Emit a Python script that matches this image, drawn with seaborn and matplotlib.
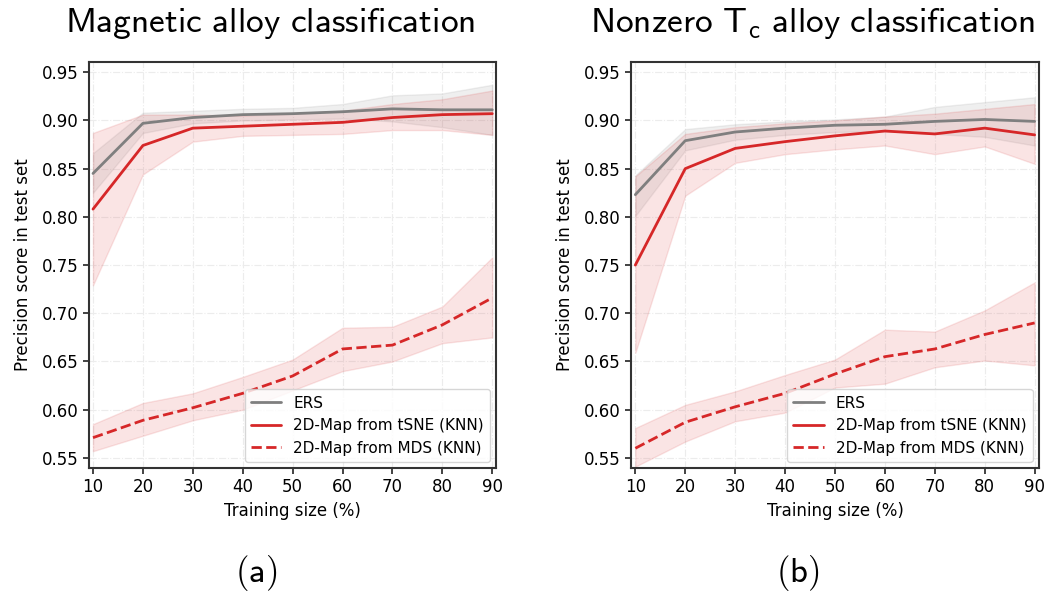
import numpy as np
import pandas as pd
import seaborn as sns
import matplotlib
matplotlib.use("Agg")
import matplotlib.pyplot as plt

# Training sizes (%)
train_size = [10, 20, 30, 40, 50, 60, 70, 80, 90]

# Panel (a): magnetic alloy classification
a_ers_mean = [0.845, 0.897, 0.903, 0.906, 0.907, 0.909, 0.912, 0.911, 0.911]
a_ers_low = [0.825, 0.887, 0.897, 0.900, 0.901, 0.902, 0.899, 0.893, 0.885]
a_ers_high = [0.866, 0.908, 0.910, 0.912, 0.913, 0.917, 0.926, 0.928, 0.937]

a_tsne_mean = [0.808, 0.874, 0.892, 0.894, 0.896, 0.898, 0.903, 0.906, 0.907]
a_tsne_low = [0.729, 0.844, 0.878, 0.884, 0.885, 0.886, 0.890, 0.890, 0.885]
a_tsne_high = [0.887, 0.906, 0.906, 0.905, 0.907, 0.910, 0.917, 0.922, 0.931]

a_mds_mean = [0.571, 0.589, 0.602, 0.617, 0.635, 0.663, 0.667, 0.688, 0.716]
a_mds_low = [0.557, 0.573, 0.589, 0.600, 0.620, 0.640, 0.650, 0.669, 0.675]
a_mds_high = [0.585, 0.607, 0.617, 0.634, 0.652, 0.685, 0.686, 0.707, 0.758]

# Panel (b): nonzero Tc alloy classification
b_ers_mean = [0.823, 0.879, 0.888, 0.892, 0.895, 0.896, 0.899, 0.901, 0.899]
b_ers_low = [0.801, 0.869, 0.880, 0.885, 0.888, 0.889, 0.886, 0.883, 0.874]
b_ers_high = [0.843, 0.891, 0.896, 0.899, 0.901, 0.904, 0.914, 0.919, 0.924]

b_tsne_mean = [0.750, 0.850, 0.871, 0.878, 0.884, 0.889, 0.886, 0.892, 0.885]
b_tsne_low = [0.659, 0.822, 0.856, 0.865, 0.870, 0.874, 0.865, 0.873, 0.855]
b_tsne_high = [0.842, 0.886, 0.893, 0.897, 0.900, 0.904, 0.907, 0.912, 0.917]

b_mds_mean = [0.560, 0.587, 0.603, 0.617, 0.637, 0.655, 0.663, 0.678, 0.690]
b_mds_low = [0.541, 0.567, 0.588, 0.597, 0.623, 0.627, 0.644, 0.651, 0.646]
b_mds_high = [0.581, 0.605, 0.619, 0.636, 0.652, 0.683, 0.681, 0.703, 0.732]

methods = ["ERS", "2D-Map from tSNE (KNN)", "2D-Map from MDS (KNN)"]
titles = [r"$\mathsf{Magnetic\ alloy\ classification}$",
          r"$\mathsf{Nonzero\ T_c\ alloy\ classification}$"]
panel_tags = [r"$\mathsf{(a)}$", r"$\mathsf{(b)}$"]

panels = [
    [(a_ers_mean, a_ers_low, a_ers_high),
     (a_tsne_mean, a_tsne_low, a_tsne_high),
     (a_mds_mean, a_mds_low, a_mds_high)],
    [(b_ers_mean, b_ers_low, b_ers_high),
     (b_tsne_mean, b_tsne_low, b_tsne_high),
     (b_mds_mean, b_mds_low, b_mds_high)],
]

sns.set_style("ticks")
plt.rcParams["font.family"] = ["DejaVu Sans"]
plt.rcParams["mathtext.fontset"] = "cm"
for key in ["text.color", "axes.labelcolor", "xtick.color", "ytick.color"]:
    plt.rcParams[key] = "black"

GRAY = "#7f7f7f"
RED = "#d62728"
palette = {methods[0]: GRAY, methods[1]: RED, methods[2]: RED}
dashes = {methods[0]: "", methods[1]: "", methods[2]: (3.7, 1.6)}

fig = plt.figure(figsize=(10.47, 5.97), dpi=100)
ax_boxes = [[0.085, 0.216, 0.389, 0.680], [0.603, 0.216, 0.389, 0.680]]
title_x = [270 / 1047, 812 / 1047]
tag_x = [256 / 1047, 798 / 1047]

for k, (box, series) in enumerate(zip(ax_boxes, panels)):
    ax = fig.add_axes(box)
    rows = []
    for name, (mean, low, high) in zip(methods, series):
        for x, m in zip(train_size, mean):
            rows.append({"Training size (%)": x, "score": m, "method": name})
    df = pd.DataFrame(rows)

    for name, (mean, low, high) in zip(methods, series):
        ax.fill_between(train_size, low, high, color=palette[name],
                        alpha=0.12, linewidth=1, zorder=1)

    sns.lineplot(data=df, x="Training size (%)", y="score", hue="method",
                 style="method", palette=palette, dashes=dashes,
                 hue_order=methods, style_order=methods,
                 linewidth=2, ax=ax, zorder=3)

    ax.set_xlim(9.2, 90.8)
    ax.set_ylim(0.5395, 0.9605)
    ax.set_xticks(train_size)
    yt = np.arange(0.55, 0.951, 0.05)
    ax.set_yticks(yt)
    ax.set_yticklabels([f"{v:.2f}" for v in yt])
    ax.tick_params(labelsize=12, length=4, width=1.2, color="#222222",
                   labelcolor="black")
    ax.set_xlabel("Training size (%)", fontsize=12, labelpad=4, color="black")
    ax.set_ylabel("Precision score in test set", fontsize=12, labelpad=7,
                  color="black")
    ax.grid(True, color="#ececec", linestyle="-.", linewidth=0.8, zorder=0)
    ax.set_axisbelow(True)
    for sp in ax.spines.values():
        sp.set_color("#333333")
        sp.set_linewidth(1.5)

    leg = ax.legend(loc="lower right", fontsize=11, frameon=True,
                    fancybox=True, borderaxespad=0.4)
    leg.get_frame().set_edgecolor("#cccccc")
    leg.get_frame().set_linewidth(1.0)
    for t in leg.get_texts():
        t.set_color("black")

    fig.text(title_x[k], 1 - 32 / 597, titles[k], fontsize=25.5,
             ha="center", va="baseline", color="black")
    fig.text(tag_x[k], 1 - 582 / 597, panel_tags[k], fontsize=25,
             ha="center", va="baseline", color="black")

fig.savefig("out.png", dpi=100)
